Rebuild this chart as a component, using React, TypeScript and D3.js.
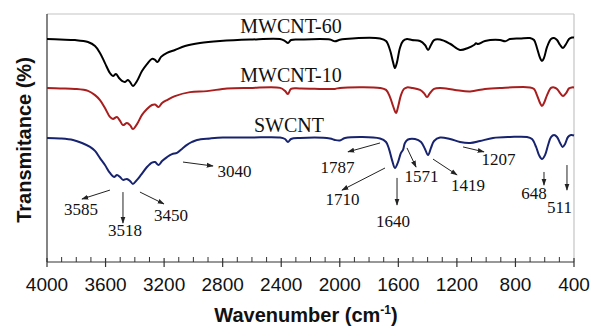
import React from "react";
import * as d3 from "d3";

// ---- data: [wavenumber (cm-1), transmittance (arb. %, offset)] ----
const MWCNT60: [number, number][] = [
  [4000, 89.9], [3911, 89.7], [3809, 89.5], [3720, 88.7], [3672, 87.1], [3638, 84.3], [3604, 80.2],
  [3570, 76.2], [3549, 75.0], [3529, 75.8], [3508, 74.2], [3488, 73.0], [3467, 72.6], [3447, 73.4],
  [3433, 72.6], [3413, 71.0], [3385, 73.0], [3351, 77.0], [3317, 79.8], [3283, 81.9], [3262, 81.5],
  [3245, 80.6], [3221, 82.7], [3180, 84.3], [3126, 85.5], [3057, 87.1], [2955, 88.3], [2818, 89.1],
  [2613, 89.7], [2408, 89.9], [2374, 89.1], [2354, 88.3], [2333, 89.5], [2272, 89.7], [2067, 89.7],
  [2033, 89.0], [2000, 89.6], [1964, 89.9], [1725, 90.1], [1684, 89.1], [1657, 85.5], [1636, 80.6],
  [1623, 78.2], [1609, 80.6], [1589, 86.3], [1568, 89.1], [1541, 89.9], [1507, 89.5], [1452, 89.1],
  [1418, 87.5], [1397, 85.5], [1377, 87.5], [1356, 89.5], [1315, 89.7], [1247, 88.0], [1179, 85.5],
  [1124, 86.3], [1083, 87.5], [1069, 88.2], [1056, 87.9], [1008, 89.1], [906, 89.5], [870, 89.0],
  [837, 89.9], [769, 90.1], [701, 90.3], [673, 89.5], [653, 86.3], [632, 82.3], [619, 81.0],
  [605, 82.3], [584, 86.7], [557, 89.9], [536, 90.3], [516, 89.5], [495, 87.5], [475, 86.3],
  [454, 87.9], [434, 89.9], [414, 90.5], [400, 90.5],
];

const MWCNT10: [number, number][] = [
  [4000, 70.2], [3911, 70.0], [3809, 69.8], [3720, 69.0], [3672, 67.3], [3638, 65.3], [3604, 62.1],
  [3570, 58.5], [3549, 57.7], [3522, 58.5], [3501, 56.9], [3481, 55.2], [3454, 56.0], [3433, 55.2],
  [3413, 53.6], [3385, 55.6], [3351, 59.3], [3317, 61.7], [3283, 63.3], [3262, 63.5], [3238, 62.5],
  [3214, 64.1], [3180, 65.3], [3126, 66.9], [3023, 68.5], [2907, 68.9], [2770, 70.0], [2613, 70.2],
  [2408, 70.2], [2374, 69.0], [2354, 67.7], [2333, 69.8], [2272, 70.0], [2033, 69.8], [1999, 70.2],
  [1725, 70.2], [1684, 69.4], [1657, 66.5], [1636, 62.9], [1616, 60.1], [1602, 62.5], [1582, 67.3],
  [1561, 69.8], [1541, 70.4], [1507, 70.2], [1452, 69.4], [1425, 68.1], [1404, 66.5], [1384, 68.1],
  [1356, 69.8], [1315, 70.2], [1213, 69.4], [1110, 68.8], [1008, 69.8], [906, 70.2], [701, 70.4],
  [673, 69.8], [653, 67.3], [632, 64.1], [619, 62.9], [605, 64.1], [584, 67.3], [557, 70.2],
  [536, 70.4], [516, 69.8], [495, 68.1], [475, 66.9], [454, 68.1], [434, 70.0], [414, 70.4], [400, 70.4],
];

const SWCNT: [number, number][] = [
  [4000, 50.0], [3911, 49.8], [3822, 49.2], [3761, 48.0], [3706, 46.4], [3672, 44.8], [3638, 41.9],
  [3604, 39.1], [3570, 35.9], [3542, 34.3], [3522, 35.1], [3501, 34.3], [3481, 33.1], [3454, 33.5],
  [3433, 32.7], [3413, 31.5], [3385, 33.1], [3358, 35.1], [3317, 38.3], [3283, 40.1], [3262, 40.3],
  [3238, 39.1], [3214, 40.7], [3180, 42.3], [3146, 43.5], [3112, 44.0], [3078, 45.6], [3044, 47.2],
  [3009, 48.4], [2975, 49.2], [2887, 49.8], [2798, 50.2], [2613, 50.2], [2408, 50.2], [2374, 49.6],
  [2354, 48.4], [2333, 49.6], [2272, 50.0], [2067, 49.8], [2033, 49.2], [1999, 49.0], [1964, 50.0],
  [1725, 49.8], [1684, 48.4], [1664, 45.6], [1643, 41.1], [1623, 37.9], [1602, 40.3], [1582, 44.0],
  [1568, 45.2], [1555, 48.0], [1534, 49.4], [1486, 49.6], [1445, 48.4], [1418, 45.6], [1397, 43.1],
  [1377, 46.0], [1356, 48.8], [1315, 50.2], [1247, 49.6], [1179, 48.4], [1110, 48.0], [1042, 48.8],
  [953, 50.0], [837, 50.4], [721, 50.4], [687, 49.6], [659, 46.4], [639, 43.1], [619, 41.5],
  [598, 43.1], [577, 47.2], [557, 50.4], [536, 51.2], [516, 50.4], [495, 48.0], [478, 46.4],
  [461, 47.6], [441, 50.4], [420, 51.2], [400, 51.0],
];

const SERIES_NAMES = ["MWCNT-60", "MWCNT-10", "SWCNT"];
// label anchor [wavenumber, transmittance]
const SERIES_LABEL_POS: [number, number][] = [[2333, 92.3], [2333, 72.6], [2347, 52.4]];
const SERIES_COLORS = ["#000000", "#a81e1e", "#17236e"];

const X_TICKS = [4000, 3600, 3200, 2800, 2400, 2000, 1600, 1200, 800, 400];

// annotations: label, text [wn, T], arrow from [wn, T], arrow to [wn, T]
const ANN_LABELS = ["3585", "3518", "3450", "3040", "1787", "1710", "1640", "1571", "1419", "1207", "648", "511"];
const ANN_TEXT: [number, number][] = [
  [3768, 19.0], [3467, 10.5], [3153, 16.5], [2719, 34.3], [2016, 35.9], [1982, 23.0],
  [1636, 14.1], [1442, 32.3], [1124, 28.6], [916, 39.1], [673, 25.4], [499, 19.8],
];
const ANN_FROM: [number, number][] = [
  [3570, 29.0], [3481, 28.2], [3365, 28.2], [3071, 40.3], [1725, 48.0], [1691, 37.9],
  [1609, 33.9], [1541, 46.0], [1363, 41.5], [1158, 46.4], [605, 36.3], [448, 39.1],
];
const ANN_TO: [number, number][] = [
  [3761, 25.4], [3481, 15.7], [3201, 23.4], [2866, 38.7], [1944, 44.4], [1985, 29.0],
  [1609, 23.0], [1479, 38.3], [1199, 35.1], [1015, 44.4], [605, 31.0], [448, 29.0],
];

const W = 591;
const H = 327;
const M = { left: 47, right: 574, top: 14, bottom: 262 };

export default function App() {
  const x = d3.scaleLinear().domain([4000, 400]).range([M.left, M.right]);
  const y = d3.scaleLinear().domain([0, 100]).range([M.bottom, M.top]);
  const line = d3
    .line<[number, number]>()
    .x((d) => x(d[0]))
    .y((d) => y(d[1]))
    .curve(d3.curveCatmullRom.alpha(0.5));

  const data = [MWCNT60, MWCNT10, SWCNT];
  const minor = d3.range(4000, 399, -100).filter((v) => !X_TICKS.includes(v));
  const serif = "'Liberation Serif', 'Times New Roman', serif";
  const sans = "'Liberation Sans', Arial, sans-serif";

  return (
    <svg width={W} height={H} style={{ position: "absolute", left: 0, top: 0 }}>
      <defs>
        <marker id="ah" viewBox="0 0 10 10" refX="9" refY="5" markerWidth="7" markerHeight="7" orient="auto" markerUnits="userSpaceOnUse">
          <path d="M0,1.5 L10,5 L0,8.5 Z" fill="#222" />
        </marker>
      </defs>
      <rect x={0} y={0} width={W} height={H} fill="#fff" />
      {/* frame */}
      <line x1={M.left} x2={M.right} y1={M.top} y2={M.top} stroke="#c4c4c4" strokeWidth={1.2} />
      <line x1={M.right} x2={M.right} y1={M.top} y2={M.bottom} stroke="#c4c4c4" strokeWidth={1.2} />
      <line x1={M.left} x2={M.left} y1={M.top} y2={M.bottom} stroke="#333" strokeWidth={1.2} />
      <line x1={M.left} x2={M.right} y1={M.bottom} y2={M.bottom} stroke="#333" strokeWidth={1.2} />
      {minor.map((v) => (
        <line key={"m" + v} x1={x(v)} x2={x(v)} y1={M.bottom} y2={M.bottom - 5} stroke="#333" strokeWidth={1} />
      ))}
      {X_TICKS.map((v) => (
        <g key={"t" + v}>
          <line x1={x(v)} x2={x(v)} y1={M.bottom - 4} y2={M.bottom + 5} stroke="#333" strokeWidth={1.2} />
          <text x={x(v)} y={291} textAnchor="middle" fontFamily={sans} fontSize={19} fill="#111">
            {v}
          </text>
        </g>
      ))}
      <text x={306} y={322} textAnchor="middle" fontFamily={sans} fontSize={20} fontWeight="bold" fill="#111">
        Wavenumber (cm
        <tspan fontSize={12} dy={-8}>-1</tspan>
        <tspan dy={8}>)</tspan>
      </text>
      <text
        transform={`translate(31, ${(M.top + M.bottom) / 2 + 2}) rotate(-90)`}
        textAnchor="middle"
        fontFamily={sans}
        fontSize={20}
        fontWeight="bold"
        fill="#111"
      >
        Transmitance (%)
      </text>
      {/* curves */}
      {data.map((d, i) => (
        <path key={"s" + i} d={line(d) || ""} fill="none" stroke={SERIES_COLORS[i]} strokeWidth={2} strokeLinejoin="round" />
      ))}
      {SERIES_NAMES.map((n, i) => (
        <text
          key={"n" + i}
          x={x(SERIES_LABEL_POS[i][0])}
          y={y(SERIES_LABEL_POS[i][1])}
          textAnchor="middle"
          fontFamily={serif}
          fontSize={20}
          fill="#111"
        >
          {n}
        </text>
      ))}
      {/* annotations */}
      {ANN_LABELS.map((l, i) => (
        <g key={"a" + i}>
          <line
            x1={x(ANN_FROM[i][0])}
            y1={y(ANN_FROM[i][1])}
            x2={x(ANN_TO[i][0])}
            y2={y(ANN_TO[i][1])}
            stroke="#222"
            strokeWidth={1}
            markerEnd="url(#ah)"
          />
          <text x={x(ANN_TEXT[i][0])} y={y(ANN_TEXT[i][1])} textAnchor="middle" fontFamily={serif} fontSize={17} fill="#111">
            {l}
          </text>
        </g>
      ))}
    </svg>
  );
}
